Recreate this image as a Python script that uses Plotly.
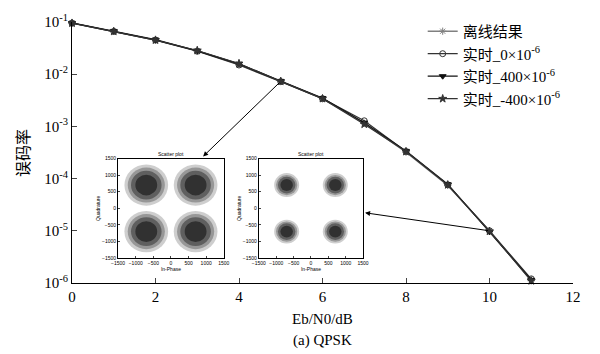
import plotly.graph_objects as go
import math

ebn0 = [0, 1, 2, 3, 4, 5, 6, 7, 8, 9, 10, 11]
offline = [0.095, 0.066, 0.045, 0.028, 0.0155, 0.0073, 0.0034, 0.00115, 3.2e-4, 7.4e-5, 1.0e-5, 1.1e-6]
rt_0 = [0.095, 0.066, 0.045, 0.0275, 0.015, 0.0072, 0.0034, 0.00128, 3.3e-4, 7.6e-5, 1.0e-5, 1.2e-6]
rt_400 = [0.096, 0.067, 0.046, 0.028, 0.0158, 0.0074, 0.0035, 0.00118, 3.4e-4, 7.8e-5, 9.5e-6, 1.15e-6]
rt_m400 = [0.095, 0.066, 0.045, 0.0285, 0.016, 0.0073, 0.0034, 0.0011, 3.3e-4, 7.6e-5, 9.8e-6, 1.1e-6]

names = ["离线结果", "实时_0×10<sup>-6</sup>", "实时_400×10<sup>-6</sup>", "实时_-400×10<sup>-6</sup>"]
ytick_vals = [1e-6, 1e-5, 1e-4, 1e-3, 1e-2, 1e-1]
ytick_text = ["10<sup>-6</sup>", "10<sup>-5</sup>", "10<sup>-4</sup>", "10<sup>-3</sup>", "10<sup>-2</sup>", "10<sup>-1</sup>"]

# inset constellation clusters (I/Q centres and visual spread)
centres_i = [-700, 700, -700, 700]
centres_q = [700, 700, -700, -700]
spread_left = 620
spread_right = 360
inset_ticks = [-1500, -1000, -500, 0, 500, 1000, 1500]

serif = "Liberation Serif, Noto Sans CJK SC"

fig = go.Figure()
styles = [
    dict(color="#808080", symbol="asterisk-open", size=6, lw=1.4),
    dict(color="#333333", symbol="circle-open", size=6, lw=1.2),
    dict(color="#111111", symbol="triangle-down", size=6, lw=1.2),
    dict(color="#333333", symbol="star", size=6, lw=1.2),
]
for name, ys, st in zip(names, [offline, rt_0, rt_400, rt_m400], styles):
    fig.add_trace(go.Scatter(
        x=ebn0, y=ys, name=name, mode="lines+markers",
        line=dict(color=st["color"], width=st["lw"]),
        marker=dict(symbol=st["symbol"], size=st["size"], color=st["color"],
                    line=dict(color=st["color"], width=1)),
        cliponaxis=False,
    ))

# inset axes placeholders
for xa, ya in [("x2", "y2"), ("x3", "y3")]:
    fig.add_trace(go.Scatter(x=[-1500, 1500], y=[-1500, 1500], xaxis=xa, yaxis=ya,
                             mode="markers", marker=dict(opacity=0), showlegend=False,
                             hoverinfo="skip"))

shapes = []
for xref, yref, sp in [("x2", "y2", spread_left), ("x3", "y3", spread_right)]:
    for cx, cy in zip(centres_i, centres_q):
        for frac, col in [(1.0, "rgba(60,60,60,0.25)"), (0.85, "rgba(50,50,50,0.35)"),
                          (0.7, "rgba(40,40,40,0.5)"), (0.5, "rgba(30,30,30,0.7)")]:
            r = sp * frac
            shapes.append(dict(type="circle", xref=xref, yref=yref,
                               x0=cx - r, x1=cx + r, y0=cy - r, y1=cy + r,
                               fillcolor=col, line=dict(width=0), layer="below"))

small = dict(size=5, family="Liberation Sans", color="black")
inset_axis = dict(range=[-1500, 1500], tickvals=inset_ticks, ticks="inside", ticklen=2,
                  showline=True, mirror=True, linecolor="black", linewidth=1,
                  showgrid=False, zeroline=False, tickfont=small)

fig.update_layout(
    width=600, height=354,
    margin=dict(l=72, r=27, t=19, b=71),
    paper_bgcolor="white", plot_bgcolor="white",
    font=dict(family=serif, color="black", size=15),
    xaxis=dict(range=[0, 12], tickvals=[0, 2, 4, 6, 8, 10, 12], ticks="inside", ticklen=5,
               showline=True, linecolor="black", linewidth=1, showgrid=False, zeroline=False,
               tickfont=dict(size=15, family=serif)),
    yaxis=dict(type="log", range=[-6, -1], tickvals=ytick_vals, ticktext=ytick_text,
               ticks="inside", ticklen=5, showline=True, linecolor="black", linewidth=1,
               showgrid=False, zeroline=False, tickfont=dict(size=15, family=serif)),
    xaxis2=dict(domain=[0.092, 0.303], anchor="y2", title=dict(text="In-Phase", font=small, standoff=1), **inset_axis),
    yaxis2=dict(domain=[0.095, 0.477], anchor="x2", title=dict(text="Quadrature", font=small, standoff=1), **inset_axis),
    xaxis3=dict(domain=[0.373, 0.581], anchor="y3", title=dict(text="In-Phase", font=small, standoff=1), **inset_axis),
    yaxis3=dict(domain=[0.095, 0.477], anchor="x3", title=dict(text="Quadrature", font=small, standoff=1), **inset_axis),
    legend=dict(x=0.70, y=1.027, xanchor="left", yanchor="top", bgcolor="rgba(0,0,0,0)",
                font=dict(size=15, family=serif), itemwidth=30, tracegroupgap=0),
    showlegend=True,
    shapes=shapes,
)

annotations = [
    dict(text="误码率", x=-0.118, y=0.5, xref="paper", yref="paper", textangle=-90,
         showarrow=False, font=dict(size=16, family=serif)),
    dict(text="Eb/N0/dB", x=0.5, y=-0.1, xref="paper", yref="paper", yanchor="top",
         showarrow=False, font=dict(size=15, family=serif)),
    dict(text="(a) QPSK", x=0.5, y=-0.18, xref="paper", yref="paper", yanchor="top",
         showarrow=False, font=dict(size=15, family=serif)),
    dict(text="Scatter plot", x=0.5, y=1.0, xref="x2 domain", yref="y2 domain", yanchor="bottom",
         showarrow=False, font=small),
    dict(text="Scatter plot", x=0.5, y=1.0, xref="x3 domain", yref="y3 domain", yanchor="bottom",
         showarrow=False, font=small),
    dict(x=3.14, y=-3.576, xref="x", yref="y", ax=5, ay=math.log10(offline[5]), axref="x", ayref="y",
         text="", showarrow=True, arrowhead=2, arrowsize=1, arrowwidth=1, arrowcolor="black"),
    dict(x=7.02, y=-4.655, xref="x", yref="y", ax=10, ay=math.log10(offline[10]), axref="x", ayref="y",
         text="", showarrow=True, arrowhead=2, arrowsize=1, arrowwidth=1, arrowcolor="black"),
]
fig.update_layout(annotations=annotations)

fig.write_html("out.html")
